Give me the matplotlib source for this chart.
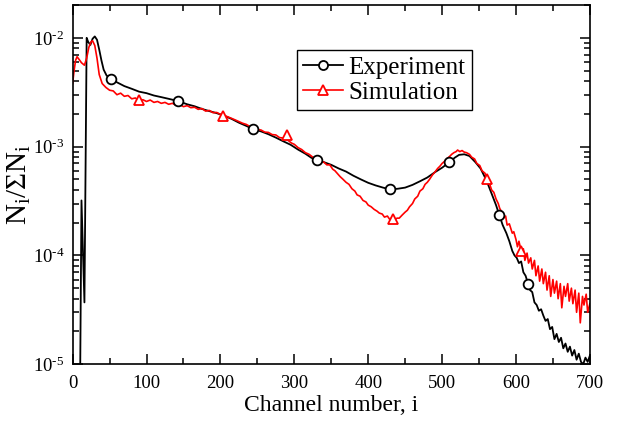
import numpy as np
import matplotlib
matplotlib.use("Agg")
import matplotlib.pyplot as plt
from matplotlib.lines import Line2D
from matplotlib.ticker import MultipleLocator, LogLocator, NullFormatter, FuncFormatter

# Experiment spectrum (black)
exp_ch = [10, 12, 16, 19, 21, 24, 27, 30, 33, 36, 39, 42, 46, 52, 60, 70, 80, 90,
          100, 110, 120, 130, 143, 155, 165, 175, 185, 195, 205, 215, 225, 235, 244,
          255, 265, 275, 285, 295, 305, 315, 323, 331, 340, 350, 360, 370, 380, 390,
          400, 410, 420, 429, 440, 450, 460, 470, 480, 490, 500, 510, 517, 523, 530,
          537, 545, 552, 560, 567, 573, 577, 582, 587, 591, 595, 598, 601, 604, 607,
          610, 613, 616, 619, 622, 625, 628, 631, 634, 637, 640, 643, 646, 649, 652,
          655, 658, 661, 664, 667, 670, 673, 676, 679, 682, 685, 688, 691, 694, 697, 700]
exp_val = [5e-6, 3.2e-4, 3.7e-5, 1.0e-2, 9.2e-3, 8.6e-3, 9.8e-3, 1.03e-2, 9.6e-3, 7.8e-3,
           6.2e-3, 5.1e-3, 4.5e-3, 4.2e-3, 3.9e-3, 3.6e-3, 3.4e-3, 3.2e-3,
           3.1e-3, 2.95e-3, 2.85e-3, 2.75e-3, 2.62e-3, 2.45e-3, 2.35e-3, 2.22e-3, 2.12e-3,
           2.03e-3, 1.92e-3, 1.80e-3, 1.66e-3, 1.55e-3, 1.45e-3,
           1.38e-3, 1.30e-3, 1.21e-3, 1.12e-3, 1.04e-3, 9.4e-4, 8.6e-4, 7.9e-4, 7.5e-4,
           7.2e-4, 6.8e-4, 6.3e-4, 5.9e-4, 5.4e-4, 5.0e-4,
           4.65e-4, 4.4e-4, 4.2e-4, 4.05e-4, 4.1e-4, 4.2e-4, 4.45e-4, 4.8e-4, 5.2e-4,
           5.8e-4, 6.4e-4, 7.2e-4, 7.9e-4, 8.4e-4, 8.5e-4,
           8.2e-4, 7.2e-4, 6.3e-4, 4.9e-4, 3.7e-4, 2.9e-4, 2.4e-4, 1.9e-4, 1.6e-4,
           1.35e-4, 1.1e-4, 1.0e-4, 9.5e-5, 8.5e-5, 8.8e-5,
           7.0e-5, 6.5e-5, 5.6e-5, 4.8e-5, 4.6e-5, 3.7e-5, 3.5e-5, 3.1e-5, 3.2e-5,
           2.8e-5, 2.5e-5, 2.6e-5, 2.1e-5, 2.2e-5, 1.7e-5,
           1.9e-5, 1.6e-5, 1.75e-5, 1.4e-5, 1.55e-5, 1.3e-5, 1.45e-5, 1.2e-5, 1.35e-5,
           1.1e-5, 1.25e-5, 1.05e-5, 1.0e-5, 1.15e-5, 1.05e-5, 1.2e-5]

# Simulation spectrum (red)
sim_ch = [0, 2, 4, 6, 9, 12, 16, 19, 22, 25, 27, 30, 33, 36, 40, 45, 50, 55, 60, 65,
          70, 75, 80, 85, 90, 95, 100, 105, 110, 115, 120, 125, 130, 135, 140, 145,
          150, 155, 160, 165, 170, 175, 180, 185, 190, 195, 200, 205, 210, 215, 220,
          225, 230, 235, 240, 245, 250, 255, 260, 265, 270, 275, 280, 285, 291, 296,
          300, 305, 310, 315, 320, 325, 330, 335, 340, 344, 348, 352, 355, 359, 362,
          366, 370, 374, 378, 382, 385, 389, 393, 397, 400, 404, 408, 412, 415, 419,
          422, 426, 429, 432, 435, 439, 442, 446, 450, 453, 456, 460, 463, 467, 470,
          474, 477, 480, 483, 487, 490, 494, 497, 500, 503, 507, 510, 513, 516, 519,
          521, 524, 527, 530, 533, 537, 540, 544, 547, 551, 554, 558, 561, 564, 567,
          570, 573, 576, 578, 581, 583, 586, 588, 591, 595, 597, 600, 602, 604, 607,
          610, 612, 615, 617, 620, 622, 625, 627, 630, 632, 635, 637, 640, 642, 645,
          647, 650, 652, 655, 657, 660, 662, 665, 667, 670, 672, 675, 677, 680, 682,
          685, 687, 690, 692, 695, 697, 700]
sim_val = [3.8e-3, 5.0e-3, 6.2e-3, 6.7e-3, 6.3e-3, 5.9e-3, 5.6e-3, 6.5e-3, 8.2e-3, 9.2e-3,
           9.4e-3, 8.5e-3, 6.5e-3, 4.6e-3, 3.8e-3, 3.5e-3, 3.3e-3, 3.25e-3, 3.0e-3, 3.1e-3,
           2.9e-3, 2.95e-3, 2.75e-3, 2.8e-3, 2.62e-3, 2.7e-3, 2.6e-3, 2.68e-3, 2.55e-3,
           2.6e-3, 2.5e-3, 2.55e-3, 2.45e-3, 2.5e-3, 2.4e-3, 2.44e-3,
           2.33e-3, 2.38e-3, 2.28e-3, 2.3e-3, 2.2e-3, 2.24e-3, 2.12e-3, 2.15e-3, 2.05e-3,
           2.06e-3, 1.98e-3, 1.93e-3, 1.88e-3, 1.82e-3, 1.76e-3,
           1.70e-3, 1.64e-3, 1.60e-3, 1.53e-3, 1.50e-3, 1.44e-3, 1.42e-3, 1.36e-3, 1.35e-3,
           1.29e-3, 1.28e-3, 1.21e-3, 1.2e-3, 1.15e-3, 1.08e-3,
           1.05e-3, 9.8e-4, 9.4e-4, 8.8e-4, 8.5e-4, 8.0e-4, 7.8e-4, 7.3e-4, 7.2e-4, 6.8e-4,
           6.8e-4, 6.2e-4, 6.0e-4, 5.6e-4, 5.3e-4,
           5.0e-4, 4.7e-4, 4.5e-4, 4.1e-4, 3.9e-4, 3.6e-4, 3.5e-4, 3.2e-4, 3.1e-4, 2.9e-4,
           2.8e-4, 2.65e-4, 2.55e-4, 2.45e-4, 2.4e-4,
           2.25e-4, 2.3e-4, 2.15e-4, 2.2e-4, 2.1e-4, 2.2e-4, 2.2e-4, 2.35e-4, 2.5e-4,
           2.6e-4, 2.8e-4, 3.0e-4, 3.3e-4, 3.5e-4, 3.9e-4,
           4.1e-4, 4.5e-4, 4.7e-4, 5.0e-4, 5.5e-4, 5.8e-4, 6.3e-4, 6.6e-4, 7.0e-4, 7.3e-4,
           7.8e-4, 8.1e-4, 8.5e-4, 8.8e-4, 9.0e-4,
           9.3e-4, 9.0e-4, 9.2e-4, 8.9e-4, 8.8e-4, 8.5e-4, 8.0e-4, 7.7e-4, 7.0e-4, 6.7e-4,
           6.0e-4, 5.7e-4, 5.0e-4, 4.6e-4, 4.0e-4,
           3.8e-4, 3.3e-4, 3.0e-4, 2.7e-4, 2.5e-4, 2.2e-4, 2.3e-4, 1.9e-4, 1.95e-4, 1.6e-4,
           1.65e-4, 1.4e-4, 1.2e-4, 1.35e-4, 1.1e-4,
           1.15e-4, 9.0e-5, 1.05e-4, 8.5e-5, 9.5e-5, 7.5e-5, 9.0e-5, 6.5e-5, 8.0e-5, 5.8e-5,
           7.5e-5, 5.5e-5, 7.0e-5, 4.8e-5, 6.5e-5,
           4.2e-5, 6.0e-5, 4.5e-5, 5.8e-5, 4.0e-5, 5.5e-5, 3.3e-5, 5.2e-5, 4.2e-5, 5.5e-5,
           3.8e-5, 5.0e-5, 3.6e-5, 4.8e-5, 3.0e-5,
           4.5e-5, 2.4e-5, 4.2e-5, 3.5e-5, 4.4e-5, 3.0e-5, 3.6e-5]

# marker positions
exp_mark_ch = [52, 143, 244, 331, 429, 510, 577, 616]
exp_mark_val = [4.2e-3, 2.62e-3, 1.45e-3, 7.5e-4, 4.1e-4, 7.2e-4, 2.36e-4, 5.5e-5]
sim_mark_ch = [90, 204, 290, 434, 561, 607]
sim_mark_val = [2.7e-3, 1.9e-3, 1.28e-3, 2.16e-4, 5.0e-4, 1.09e-4]

plt.rcParams['font.family'] = 'Liberation Serif'
plt.rcParams['mathtext.fontset'] = 'custom'
plt.rcParams['mathtext.rm'] = 'Liberation Serif'
plt.rcParams['mathtext.it'] = 'Liberation Serif:italic'

fig = plt.figure(figsize=(6.18, 4.23), dpi=100)
ax = fig.add_axes([0.1175, 0.139, 0.837, 0.849])

ax.plot(exp_ch, exp_val, color='black', lw=1.3)
ax.plot(sim_ch, sim_val, color='red', lw=1.2)
ax.plot(exp_mark_ch, exp_mark_val, 'o', ms=7, mfc='white', mec='black', mew=1.3)
ax.plot(sim_mark_ch, sim_mark_val, '^', ms=7.5, mfc='white', mec='red', mew=1.3)

ax.set_yscale('log')
ax.set_xlim(0, 700)
ax.set_ylim(1e-5, 2e-2)
ax.xaxis.set_major_locator(MultipleLocator(100))
ax.xaxis.set_minor_locator(MultipleLocator(50))
ax.yaxis.set_major_locator(LogLocator(base=10))
ax.yaxis.set_major_formatter(FuncFormatter(lambda v, p: r'$10^{\text{-}%d}$' % round(-np.log10(v))))
ax.yaxis.set_minor_locator(LogLocator(base=10, subs=np.arange(2, 10)))
ax.yaxis.set_minor_formatter(NullFormatter())
ax.tick_params(which='both', direction='in', top=True, right=True, width=1.1)
ax.tick_params(which='major', length=7, labelsize=13.5, pad=6)
ax.tick_params(axis='x', which='major', pad=8)
ax.tick_params(which='minor', length=4)
for s in ax.spines.values():
    s.set_linewidth(1.2)

ax.set_xlabel('Channel number, i', fontsize=17, labelpad=2)
ax.set_ylabel(r'$\mathrm{N_i/\Sigma N_i}$', fontsize=21, labelpad=0)

handles = [Line2D([], [], color='black', lw=1.3, marker='o', ms=6.5, mfc='white', mec='black', mew=1.3),
           Line2D([], [], color='red', lw=1.2, marker='^', ms=7, mfc='white', mec='red', mew=1.3)]
leg = ax.legend(handles, ['Experiment', 'Simulation'], loc='upper left',
                bbox_to_anchor=(0.434, 0.875), borderaxespad=0, fontsize=18,
                fancybox=False, framealpha=1, edgecolor='black', handlelength=1.6,
                handletextpad=0.2, labelspacing=0.1, borderpad=0.25)
leg.get_frame().set_linewidth(1.0)

fig.savefig('out.png', dpi=100)
